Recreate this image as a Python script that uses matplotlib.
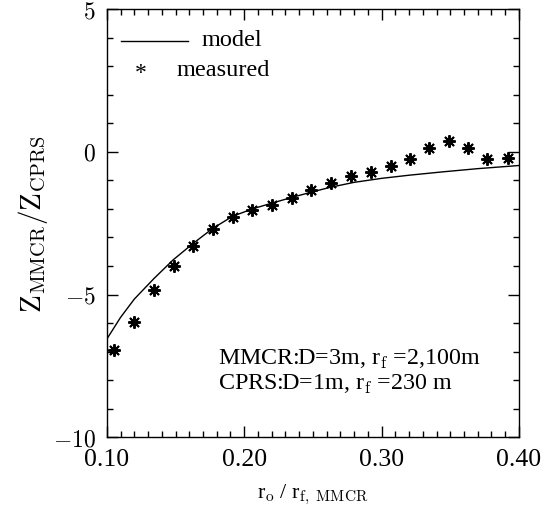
import matplotlib
matplotlib.use("Agg")
import matplotlib.pyplot as plt
from matplotlib.ticker import MultipleLocator
from matplotlib.lines import Line2D

plt.rcParams['font.family'] = ['Liberation Serif', 'DejaVu Serif']
plt.rcParams['mathtext.fontset'] = 'cm'

# measured points
meas_x = [0.105, 0.1195, 0.134, 0.149, 0.163, 0.1776, 0.1917, 0.206, 0.220, 0.2346,
          0.2487, 0.263, 0.2774, 0.292, 0.3066, 0.3204, 0.3345, 0.349, 0.363, 0.377, 0.3917]
meas_y = [-6.95, -5.96, -4.83, -4.01, -3.30, -2.69, -2.28, -2.05, -1.86, -1.63,
          -1.35, -1.08, -0.86, -0.70, -0.50, -0.245, 0.15, 0.37, 0.15, -0.26, -0.23]

# model curve
model_x = [0.100, 0.110, 0.120, 0.1343, 0.1484, 0.1623, 0.1769, 0.1915, 0.206, 0.220,
           0.2346, 0.249, 0.263, 0.280, 0.300, 0.320, 0.345, 0.370, 0.400]
model_y = [-6.56, -5.80, -5.16, -4.44, -3.78, -3.23, -2.69, -2.26, -2.00, -1.80,
           -1.60, -1.41, -1.24, -1.07, -0.93, -0.82, -0.70, -0.59, -0.48]

xticks = [0.10, 0.20, 0.30, 0.40]
xticklabels = ['0.10', '0.20', '0.30', '0.40']
yticks = [-10, -5, 0, 5]
yticklabels = [r'$-10$', r'$-5$', r'$0$', r'$5$']

fig = plt.figure(figsize=(5.48, 5.06), dpi=100)
ax = fig.add_axes([0.195, 0.134, 0.752, 0.846])

ax.plot(model_x, model_y, color='black', lw=1.0)
ax.plot(meas_x, meas_y, linestyle='none', marker=(8, 2, 0), markersize=9,
        markeredgewidth=1.4, color='black')

ax.set_xlim(0.10, 0.40)
ax.set_ylim(-10, 5)
ax.set_xticks(xticks)
ax.set_xticklabels(xticklabels, fontsize=18.5)
ax.set_yticks(yticks)
ax.set_yticklabels(yticklabels, fontsize=17)
ax.xaxis.set_minor_locator(MultipleLocator(0.01))
ax.yaxis.set_minor_locator(MultipleLocator(1))
ax.tick_params(which='both', direction='in', top=True, right=True, width=1)
ax.tick_params(which='major', length=8, pad=8)
ax.tick_params(which='minor', length=4)
for s in ax.spines.values():
    s.set_linewidth(1.0)

# legend drawn manually
ax.add_line(Line2D([0.035, 0.196], [0.925, 0.925], transform=ax.transAxes,
                   color='black', lw=1.0))
ax.text(0.229, 0.928, 'model', transform=ax.transAxes, fontsize=17.5,
        va='center', ha='left')
ax.text(0.082, 0.853, '*', transform=ax.transAxes, fontsize=17,
        va='center', ha='center')
ax.text(0.170, 0.858, 'measured', transform=ax.transAxes, fontsize=17.5,
        va='center', ha='left')

ax.text(0.269, 0.172, r'MMCR:D=3m, r$_\mathrm{f}$ =2,100m', transform=ax.transAxes,
        fontsize=17.3, ha='left', va='baseline')
ax.text(0.269, 0.113, r'CPRS:D=1m, r$_\mathrm{f}$ =230 m', transform=ax.transAxes,
        fontsize=17.3, ha='left', va='baseline')

ax.set_xlabel(r'r$_\mathrm{o}$ / r$_\mathrm{f,\ MMCR}$', fontsize=15.8, labelpad=8)
ax.set_ylabel(r'$\mathrm{Z}_\mathrm{MMCR}/\mathrm{Z}_\mathrm{CPRS}$', fontsize=21, labelpad=2)

fig.savefig('out.png', dpi=100)
